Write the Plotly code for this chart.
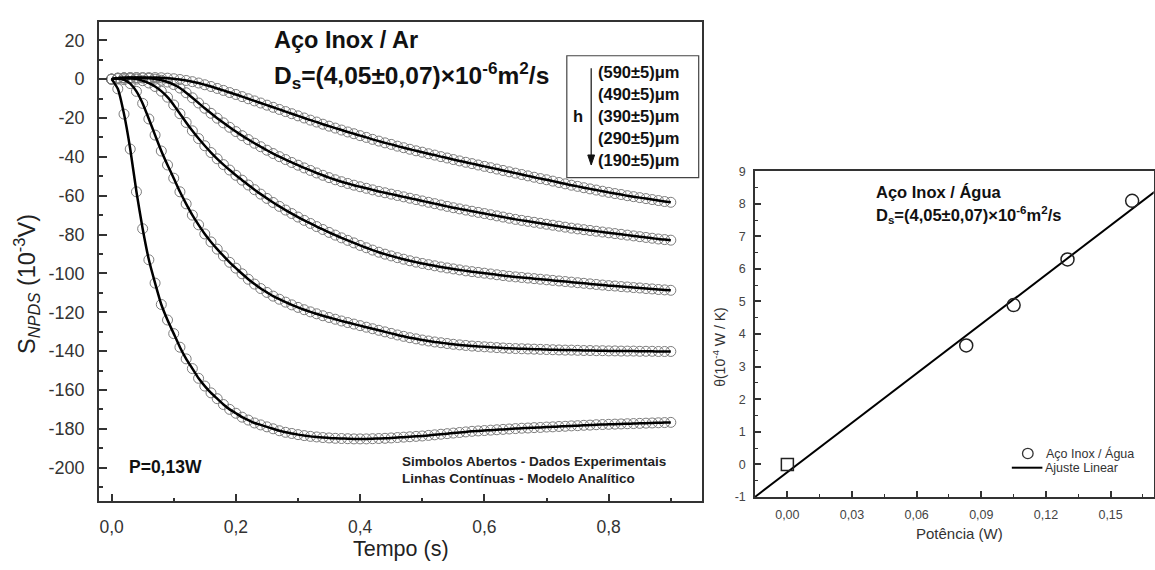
import plotly.graph_objects as go

FONT = "Arial, 'Liberation Sans', sans-serif"
W, H = 1155, 570

# ---------------- data: left panel (S_NPDS vs time, P = 0.13 W) ----------------
time_s = [round(0.01 * i, 2) for i in range(91)]

s_590 = [0, 0.5, 0.7, 0.8, 0.8, 0.8, 0.8, 0.8, 0.7, 0.5,
         0.2, -0.2, -0.7, -1.3, -2.0, -2.9, -3.8, -4.8, -5.8, -6.9,
         -7.9, -9.0, -10.1, -11.2, -12.3, -13.4, -14.5, -15.6, -16.7, -17.8,
         -18.9, -20.0, -21.1, -22.1, -23.2, -24.2, -25.2, -26.2, -27.2, -28.1,
         -29.1, -30.0, -31.0, -31.9, -32.8, -33.6, -34.5, -35.3, -36.1, -36.9,
         -37.6, -38.4, -39.1, -39.9, -40.6, -41.4, -42.1, -42.8, -43.5, -44.2,
         -44.9, -45.6, -46.3, -47.0, -47.7, -48.4, -49.1, -49.8, -50.5, -51.2,
         -51.8, -52.5, -53.2, -53.9, -54.6, -55.2, -55.9, -56.5, -57.1, -57.7,
         -58.3, -58.9, -59.4, -60.0, -60.5, -61.0, -61.5, -62.0, -62.5, -63.0,
         -63.4]

s_490 = [0, 0.5, 0.7, 0.7, 0.7, 0.6, 0.4, 0.0, -0.6, -1.5,
         -2.8, -4.6, -7.0, -9.6, -12.3, -15.0, -17.6, -20.1, -22.5, -24.8,
         -27.0, -29.1, -31.1, -33.0, -34.8, -36.6, -38.3, -39.9, -41.4, -42.9,
         -44.3, -45.7, -47.0, -48.3, -49.5, -50.7, -51.8, -52.8, -53.7, -54.6,
         -55.4, -56.2, -57.0, -57.8, -58.5, -59.2, -59.9, -60.6, -61.3, -62.0,
         -62.7, -63.4, -64.1, -64.8, -65.5, -66.2, -66.8, -67.4, -68.0, -68.6,
         -69.2, -69.8, -70.4, -71.0, -71.6, -72.2, -72.7, -73.2, -73.7, -74.2,
         -74.7, -75.2, -75.7, -76.2, -76.7, -77.1, -77.5, -77.9, -78.3, -78.7,
         -79.1, -79.5, -79.9, -80.3, -80.7, -81.1, -81.5, -81.9, -82.3, -82.6,
         -82.9]

s_390 = [0, 0.5, 0.5, 0.3, 0.0, -0.8, -2.0, -3.8, -6.2, -9.3,
         -13.3, -17.8, -22.3, -26.6, -30.6, -34.3, -37.8, -41.0, -44.0, -46.8,
         -49.5, -52.0, -54.5, -56.9, -59.2, -61.4, -63.5, -65.5, -67.4, -69.2,
         -71.0, -72.7, -74.3, -75.9, -77.4, -78.9, -80.3, -81.7, -83.0, -84.3,
         -85.6, -86.8, -88.0, -89.1, -90.1, -91.0, -91.9, -92.7, -93.5, -94.2,
         -94.9, -95.5, -96.1, -96.7, -97.2, -97.7, -98.2, -98.7, -99.1, -99.5,
         -99.9, -100.3, -100.7, -101.1, -101.5, -101.8, -102.1, -102.4, -102.7, -103.0,
         -103.3, -103.6, -103.9, -104.2, -104.5, -104.8, -105.1, -105.4, -105.7, -106.0,
         -106.3, -106.5, -106.8, -107.0, -107.3, -107.5, -107.8, -108.0, -108.3, -108.5,
         -108.7]

s_290 = [0, 0.3, -0.3, -2.3, -6.3, -12.5, -20.5, -28.8, -37.0, -44.2,
         -51.0, -58.0, -64.2, -70.0, -75.0, -79.7, -83.8, -87.5, -91.0, -94.3,
         -97.3, -100.2, -103.0, -105.5, -107.8, -109.8, -111.7, -113.3, -114.8, -116.2,
         -117.5, -118.7, -119.8, -120.8, -121.8, -122.7, -123.6, -124.5, -125.3, -126.1,
         -126.9, -127.7, -128.5, -129.3, -130.1, -130.9, -131.7, -132.4, -133.1, -133.7,
         -134.3, -134.8, -135.3, -135.7, -136.1, -136.5, -136.8, -137.1, -137.4, -137.6,
         -137.8, -138.0, -138.2, -138.4, -138.6, -138.7, -138.8, -138.9, -139.0, -139.1,
         -139.2, -139.3, -139.4, -139.5, -139.5, -139.6, -139.7, -139.7, -139.8, -139.8,
         -139.9, -139.9, -140.0, -140.0, -140.0, -140.1, -140.1, -140.1, -140.2, -140.2,
         -140.2]

s_190 = [0, -5, -18, -36, -58, -77, -93, -105, -116, -124,
         -131, -138, -144, -149, -154, -158, -161.5, -164.5, -167.5, -170,
         -172, -174, -175.5, -177, -178, -179, -180, -181, -181.8, -182.4,
         -183, -183.5, -183.9, -184.2, -184.5, -184.7, -184.9, -185, -185.1, -185.2,
         -185.2, -185.2, -185.1, -185, -184.9, -184.7, -184.5, -184.3, -184.1, -183.9,
         -183.7, -183.4, -183.1, -182.8, -182.5, -182.2, -181.9, -181.6, -181.3, -181.1,
         -180.9, -180.7, -180.5, -180.3, -180.1, -179.9, -179.7, -179.6, -179.4, -179.3,
         -179.1, -179.0, -178.8, -178.7, -178.5, -178.4, -178.2, -178.1, -177.9, -177.8,
         -177.7, -177.6, -177.5, -177.4, -177.3, -177.2, -177.1, -177.0, -176.9, -176.8,
         -176.7]

series_left = [s_590, s_490, s_390, s_290, s_190]
thickness_labels = ["(590±5)μm", "(490±5)μm", "(390±5)μm", "(290±5)μm", "(190±5)μm"]

x_left_ticks = [0.0, 0.2, 0.4, 0.6, 0.8]
x_left_ticktext = ["0,0", "0,2", "0,4", "0,6", "0,8"]
y_left_ticks = [20, 0, -20, -40, -60, -80, -100, -120, -140, -160, -180, -200]
y_left_ticktext = ["20", "0", "-20", "-40", "-60", "-80", "-100", "-120", "-140", "-160", "-180", "-200"]

# ---------------- data: right panel (theta vs power) ----------------
power_W = [0.083, 0.105, 0.130, 0.160]
theta_vals = [3.65, 4.89, 6.29, 8.09]
origin_power = [0.0]
origin_theta = [0.0]
fit_slope = 50.5
fit_intercept = -0.24
fit_x = [-0.015, 0.175]

x_right_ticks = [0.0, 0.03, 0.06, 0.09, 0.12, 0.15]
x_right_ticktext = ["0,00", "0,03", "0,06", "0,09", "0,12", "0,15"]
y_right_ticks = [-1, 0, 1, 2, 3, 4, 5, 6, 7, 8, 9]
y_right_ticktext = ["-1", "0", "1", "2", "3", "4", "5", "6", "7", "8", "9"]


def px(x):
    return x / W


def py(y):
    return 1 - y / H


fig = go.Figure()

for s in series_left:
    fig.add_trace(go.Scatter(x=time_s, y=s, mode="markers", xaxis="x", yaxis="y",
                             marker=dict(symbol="circle-open", size=10, color="#7d7d7d",
                                         line=dict(width=1, color="#7d7d7d")),
                             showlegend=False, hoverinfo="skip"))
for s in series_left:
    fig.add_trace(go.Scatter(x=time_s, y=s, mode="lines", xaxis="x", yaxis="y",
                             line=dict(color="black", width=2.5, shape="spline", smoothing=0.6),
                             showlegend=False, hoverinfo="skip"))

fit_y = [fit_intercept + fit_slope * v for v in fit_x]
fig.add_trace(go.Scatter(x=fit_x, y=fit_y, mode="lines", xaxis="x2", yaxis="y2",
                         line=dict(color="black", width=2), showlegend=False))
fig.add_trace(go.Scatter(x=power_W, y=theta_vals, mode="markers", xaxis="x2", yaxis="y2",
                         marker=dict(symbol="circle-open", size=13, color="#222",
                                     line=dict(width=1.5, color="#222")),
                         showlegend=False))
fig.add_trace(go.Scatter(x=origin_power, y=origin_theta, mode="markers", xaxis="x2", yaxis="y2",
                         marker=dict(symbol="square-open", size=12, color="#222",
                                     line=dict(width=1.5, color="#222")),
                         showlegend=False))

axis_common = dict(showline=True, linecolor="#333", linewidth=1.5, mirror=True,
                   ticks="inside", tickcolor="#333", tickwidth=1.5,
                   showgrid=False, zeroline=False, tickmode="array")

fig.update_layout(
    width=W, height=H,
    margin=dict(l=0, r=0, t=0, b=0),
    paper_bgcolor="white", plot_bgcolor="white",
    font=dict(family=FONT, color="#222"),
    xaxis=dict(domain=[px(99), px(702.5)], range=[-0.0204, 0.95], anchor="y",
               tickvals=x_left_ticks, ticktext=x_left_ticktext, ticklen=8,
               tickfont=dict(size=17.5, color="#333"), ticklabelstandoff=9,
               minor=dict(ticks="inside", ticklen=4, tickmode="linear", tick0=0, dtick=0.1,
                          tickcolor="#333", tickwidth=1.5),
               **axis_common),
    yaxis=dict(domain=[py(506.7), py(15)], range=[-217.3, 29.6], anchor="x",
               tickvals=y_left_ticks, ticktext=y_left_ticktext, ticklen=8,
               tickfont=dict(size=18, color="#333"), ticklabelstandoff=9,
               minor=dict(ticks="inside", ticklen=4, tickmode="linear", tick0=0, dtick=10,
                          tickcolor="#333", tickwidth=1.5),
               **axis_common),
    xaxis2=dict(domain=[px(755.7), px(1154.7)], range=[-0.015, 0.17], anchor="y2",
                tickvals=x_right_ticks, ticktext=x_right_ticktext, ticklen=6,
                tickfont=dict(size=12.5, color="#444"), ticklabelstandoff=5,
                minor=dict(ticks="inside", ticklen=3, tickmode="linear", tick0=0, dtick=0.015,
                           tickcolor="#333", tickwidth=1.2),
                **axis_common),
    yaxis2=dict(domain=[py(502.3), py(168.3)], range=[-1, 9], anchor="x2",
                tickvals=y_right_ticks, ticktext=y_right_ticktext, ticklen=6,
                tickfont=dict(size=12.5, color="#444"), ticklabelstandoff=5,
                minor=dict(ticks="inside", ticklen=3, tickmode="linear", tick0=0, dtick=0.5,
                           tickcolor="#333", tickwidth=1.2),
                **axis_common),
)


def note(x, y, text, size, color="#111", xanchor="left", angle=0):
    return dict(x=px(x), y=py(y), xref="paper", yref="paper", xanchor=xanchor, yanchor="middle",
                text=text, showarrow=False, textangle=angle,
                font=dict(size=size, color=color, family=FONT))


ann = []
# axis titles
ann.append(note(26, 284, "S<sub><i>NPDS</i></sub> (10<sup>-3</sup>V)", 23.5, "#222", "center", -90))
ann.append(note(401.7, 556, "Tempo (s)", 21.5, "#222", "center"))
ann.append(note(720, 348, "θ(10<sup>-4</sup> W / K)", 14, "#333", "center", -90))
ann.append(note(960, 540, "Potência (W)", 15, "#333", "center"))

# left panel texts
ann.append(note(272, 34, "<b>Aço Inox / Ar</b>", 23.5))
ann.append(note(272, 70, "<b>D<sub>s</sub>=(4,05±0,07)×10<sup>-6</sup>m<sup>2</sup>/s</b>", 24.5))
for i, lab in enumerate(thickness_labels):
    ann.append(note(596.5, 66.7 + i * 22.5, "<b>" + lab + "</b>", 16.5))
ann.append(note(578.3, 111.7, "<b>h</b>", 16.5, "#111", "center"))
ann.append(note(127, 472, "<b>P=0,13W</b>", 17.5))
ann.append(note(400, 466, "<b>Simbolos Abertos - Dados Experimentais</b>", 13.5, "#222"))
ann.append(note(400, 483.5, "<b>Linhas Contínuas - Modelo Analítico</b>", 13.5, "#222"))

# right panel texts
ann.append(note(875, 190, "<b>Aço Inox / Água</b>", 16.5))
ann.append(note(875, 213, "<b>D<sub>s</sub>=(4,05±0,07)×10<sup>-6</sup>m<sup>2</sup>/s</b>", 16.5))
ann.append(note(1045, 457.3, "Aço Inox / Água", 12.5, "#333"))
ann.append(note(1044, 472.3, "Ajuste Linear", 12.5, "#333"))

shapes = []
# legend box in left panel with arrow
shapes.append(dict(type="rect", xref="paper", yref="paper", x0=px(567.3), x1=px(699.3),
                   y0=py(175), y1=py(50), line=dict(color="#444", width=1.2)))
shapes.append(dict(type="line", xref="paper", yref="paper", x0=px(591.7), x1=px(591.7),
                   y0=py(62.7), y1=py(153), line=dict(color="#111", width=1.2)))
shapes.append(dict(type="path", xref="paper", yref="paper",
                   path=f"M {px(588.3)} {py(151.7)} L {px(595.1)} {py(151.7)} L {px(591.7)} {py(162)} Z",
                   fillcolor="#111", line=dict(color="#111", width=1)))
# right legend symbols
shapes.append(dict(type="circle", xref="paper", yref="paper", x0=px(1023.4), x1=px(1034),
                   y0=py(463), y1=py(452.4), line=dict(color="#333", width=1.3)))
shapes.append(dict(type="line", xref="paper", yref="paper", x0=px(1012.7), x1=px(1043.3),
                   y0=py(472.3), y1=py(472.3), line=dict(color="black", width=2)))

fig.update_layout(annotations=ann, shapes=shapes)

fig.write_html("out.html")
